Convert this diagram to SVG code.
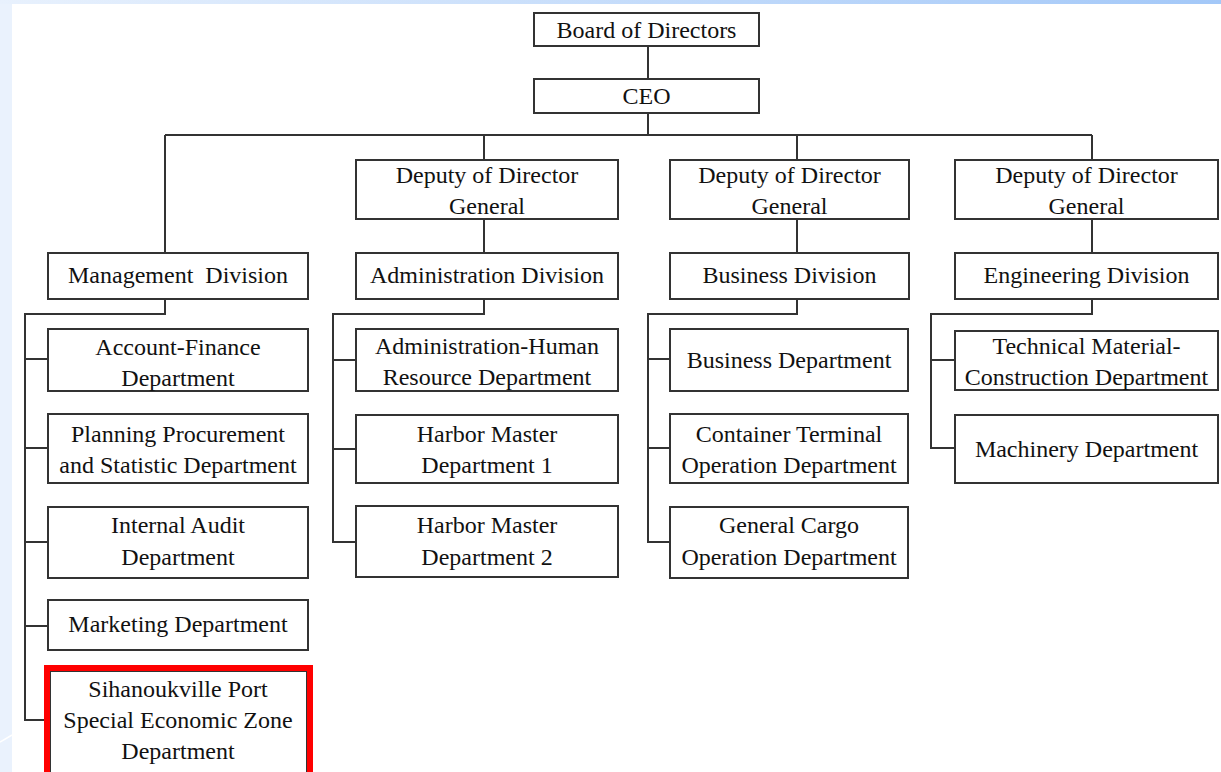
<svg xmlns="http://www.w3.org/2000/svg" width="1221" height="772" viewBox="0 0 1221 772">
<defs>
<linearGradient id="topg" x1="0" y1="0" x2="1" y2="0">
<stop offset="0" stop-color="#e8f1fd"/>
<stop offset="1" stop-color="#a3c8f8"/>
</linearGradient>
<style>
.box{fill:#ffffff;stroke:#333333;stroke-width:2}
.hl{fill:none;stroke:#ff0000;stroke-width:6}
.t{font-family:"Liberation Serif","Times New Roman",serif;font-size:24px;fill:#111111;text-anchor:middle}
.c{fill:none;stroke:#333333;stroke-width:2}
</style>
</defs>
<rect x="0" y="0" width="1221" height="772" fill="#ffffff"/>
<rect x="0" y="0" width="12" height="772" fill="#eaf2fd"/>
<rect x="0" y="0" width="1221" height="4" fill="url(#topg)"/>
<path d="M0 742 L12 735" stroke="#ffffff" stroke-width="1.5" fill="none"/>

<g id="connectors">
<path class="c" d="M648 46 V79"/>
<path class="c" d="M648 113 V135"/>
<path class="c" d="M165 135 H1092"/>
<path class="c" d="M165 135 V253"/>
<path class="c" d="M484 135 V160"/>
<path class="c" d="M797 135 V160"/>
<path class="c" d="M1092 135 V160"/>
<path class="c" d="M484 219 V253"/>
<path class="c" d="M797 219 V253"/>
<path class="c" d="M1092 219 V253"/>
<path class="c" d="M165 299 V314 H25 V720 H48"/>
<path class="c" d="M25 359 H48 M25 448 H48 M25 542 H48 M25 626 H48"/>
<path class="c" d="M484 299 V314 H333 V542 H356"/>
<path class="c" d="M333 360 H356 M333 449 H356"/>
<path class="c" d="M797 299 V314 H648 V542 H670"/>
<path class="c" d="M648 359 H670 M648 448 H670"/>
<path class="c" d="M1092 299 V314 H931 V448 H955"/>
<path class="c" d="M931 360 H955"/>
</g>

<g id="board"><rect class="box" x="534" y="13" width="225" height="33"/><text class="t" x="646.5" y="38">Board of Directors</text></g>
<g id="ceo"><rect class="box" x="534" y="79" width="225" height="34"/><text class="t" x="646.5" y="104">CEO</text></g>

<g id="deputy1"><rect class="box" x="356" y="160" width="262" height="59"/><text class="t" x="487" y="183">Deputy of Director</text><text class="t" x="487" y="214">General</text></g>
<g id="deputy2"><rect class="box" x="670" y="160" width="239" height="59"/><text class="t" x="789.5" y="183">Deputy of Director</text><text class="t" x="789.5" y="214">General</text></g>
<g id="deputy3"><rect class="box" x="955" y="160" width="263" height="59"/><text class="t" x="1086.5" y="183">Deputy of Director</text><text class="t" x="1086.5" y="214">General</text></g>

<g id="management"><rect class="box" x="48" y="253" width="260" height="46"/><text class="t" x="178" y="283" xml:space="preserve">Management  Division</text></g>
<g id="administration"><rect class="box" x="356" y="253" width="262" height="46"/><text class="t" x="487" y="283">Administration Division</text></g>
<g id="business"><rect class="box" x="670" y="253" width="239" height="46"/><text class="t" x="789.5" y="283">Business Division</text></g>
<g id="engineering"><rect class="box" x="955" y="253" width="263" height="46"/><text class="t" x="1086.5" y="283">Engineering Division</text></g>

<g id="account"><rect class="box" x="48" y="329" width="260" height="62"/><text class="t" x="178" y="355">Account-Finance</text><text class="t" x="178" y="386">Department</text></g>
<g id="planning"><rect class="box" x="48" y="414" width="260" height="69"/><text class="t" x="178" y="442">Planning Procurement</text><text class="t" x="178" y="473">and Statistic Department</text></g>
<g id="audit"><rect class="box" x="48" y="507" width="260" height="71"/><text class="t" x="178" y="533">Internal Audit</text><text class="t" x="178" y="565">Department</text></g>
<g id="marketing"><rect class="box" x="48" y="600" width="260" height="50"/><text class="t" x="178" y="632">Marketing Department</text></g>
<g id="sihanoukville"><rect class="box" x="50" y="671" width="257" height="110"/><rect class="hl" x="47" y="668" width="263" height="114"/><text class="t" x="178" y="697">Sihanoukville Port</text><text class="t" x="178" y="728">Special Economic Zone</text><text class="t" x="178" y="759">Department</text></g>

<g id="adminhr"><rect class="box" x="356" y="329" width="262" height="62"/><text class="t" x="487" y="354">Administration-Human</text><text class="t" x="487" y="385">Resource Department</text></g>
<g id="harbor1"><rect class="box" x="356" y="415" width="262" height="68"/><text class="t" x="487" y="442">Harbor Master</text><text class="t" x="487" y="473">Department 1</text></g>
<g id="harbor2"><rect class="box" x="356" y="506" width="262" height="71"/><text class="t" x="487" y="533">Harbor Master</text><text class="t" x="487" y="565">Department 2</text></g>

<g id="businessdept"><rect class="box" x="670" y="329" width="238" height="62"/><text class="t" x="789" y="368">Business Department</text></g>
<g id="container"><rect class="box" x="670" y="414" width="238" height="69"/><text class="t" x="789" y="442">Container Terminal</text><text class="t" x="789" y="473">Operation Department</text></g>
<g id="cargo"><rect class="box" x="670" y="507" width="238" height="71"/><text class="t" x="789" y="533">General Cargo</text><text class="t" x="789" y="565">Operation Department</text></g>

<g id="technical"><rect class="box" x="955" y="331" width="263" height="59"/><text class="t" x="1086.5" y="354">Technical Material-</text><text class="t" x="1086.5" y="385">Construction Department</text></g>
<g id="machinery"><rect class="box" x="955" y="415" width="263" height="68"/><text class="t" x="1086.5" y="457">Machinery Department</text></g>
</svg>
